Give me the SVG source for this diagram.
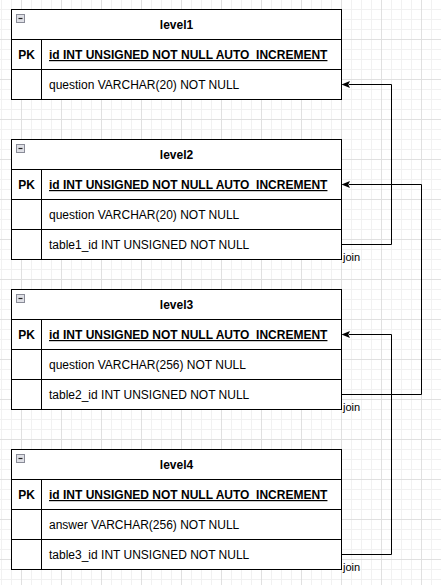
<svg xmlns="http://www.w3.org/2000/svg" width="441" height="585" viewBox="0 0 441 585">
  <style>
    .frame { fill: #ffffff; stroke: #000000; stroke-width: 1; }
    .ln { stroke: #000000; stroke-width: 1; fill: none; }
    .title { font-family: "Liberation Sans", Arial, sans-serif; font-size: 12px; font-weight: bold; fill: #000000; text-anchor: middle; }
    .pk { font-family: "Liberation Sans", Arial, sans-serif; font-size: 12px; font-weight: bold; fill: #000000; text-anchor: middle; }
    .key { font-family: "Liberation Sans", Arial, sans-serif; font-size: 12px; font-weight: bold; fill: #000000; text-decoration: underline; }
    .fld { font-family: "Liberation Sans", Arial, sans-serif; font-size: 12px; fill: #000000; }
    .lbl { font-family: "Liberation Sans", Arial, sans-serif; font-size: 11px; fill: #000000; }
    .conn { stroke: #000000; stroke-width: 1; fill: none; marker-end: url(#arrow); }
    .icon { fill: #dfe0e6; stroke: #8a8c98; stroke-width: 1; }
    .minus { stroke: #222222; stroke-width: 1.2; }
  </style>
  <defs>
    <pattern id="grid" patternUnits="userSpaceOnUse" x="1" y="0" width="40" height="40">
      <path d="M0.5,0 V40 M10.5,0 V40 M30.5,0 V40 M0,9.5 H40 M0,19.5 H40 M0,29.5 H40" stroke="#f1f1f1" stroke-width="1" fill="none"/>
      <path d="M20.5,0 V40 M0,39.5 H40" stroke="#e0e0e0" stroke-width="1" fill="none"/>
    </pattern>
    <marker id="arrow" markerUnits="userSpaceOnUse" markerWidth="10" markerHeight="10" viewBox="0 0 10 10" refX="0" refY="5" orient="auto-start-reverse">
      <path d="M0,5 L8.5,1.5 L7,5 L8.5,8.5 Z" fill="#000000" transform="rotate(180 5 5) translate(1.5 0)"/>
    </marker>
  </defs>

  <rect x="0" y="0" width="441" height="585" fill="#ffffff"/>
  <rect x="0" y="0" width="441" height="585" fill="url(#grid)"/>

  <g id="connectors">
    <path class="ln" d="M341.5,244.5 H391.5 V84.5 H349"/>
    <path d="M341.5,84.5 L350,81 L348.3,84.5 L350,88 Z" fill="#000000"/>
    <path class="ln" d="M341.5,394.5 H421.5 V184.5 H349"/>
    <path d="M341.5,184.5 L350,181 L348.3,184.5 L350,188 Z" fill="#000000"/>
    <path class="ln" d="M341.5,554.5 H391.5 V334.5 H349"/>
    <path d="M341.5,334.5 L350,331 L348.3,334.5 L350,338 Z" fill="#000000"/>
    <text class="lbl" x="343" y="261">join</text>
    <text class="lbl" x="343" y="411">join</text>
    <text class="lbl" x="343" y="571">join</text>
  </g>

  <g id="level1">
    <rect class="frame" x="11.5" y="9.5" width="330" height="90"/>
    <path class="ln" d="M11.5,39.5 H341.5 M11.5,69.5 H341.5 M41.5,39.5 V99.5"/>
    <rect class="icon" x="16.5" y="14.5" width="8" height="8"/>
    <path class="minus" d="M18.5,18.5 H22.5"/>
    <text class="title" x="176.5" y="29">level1</text>
    <text class="pk" x="26.5" y="59">PK</text>
    <text class="key" x="49" y="59">id INT UNSIGNED NOT NULL AUTO_INCREMENT</text>
    <text class="fld" x="49" y="89">question VARCHAR(20) NOT NULL</text>
  </g>

  <g id="level2">
    <rect class="frame" x="11.5" y="139.5" width="330" height="120"/>
    <path class="ln" d="M11.5,169.5 H341.5 M11.5,199.5 H341.5 M11.5,229.5 H341.5 M41.5,169.5 V259.5"/>
    <rect class="icon" x="16.5" y="144.5" width="8" height="8"/>
    <path class="minus" d="M18.5,148.5 H22.5"/>
    <text class="title" x="176.5" y="159">level2</text>
    <text class="pk" x="26.5" y="189">PK</text>
    <text class="key" x="49" y="189">id INT UNSIGNED NOT NULL AUTO_INCREMENT</text>
    <text class="fld" x="49" y="219">question VARCHAR(20) NOT NULL</text>
    <text class="fld" x="49" y="249">table1_id INT UNSIGNED NOT NULL</text>
  </g>

  <g id="level3">
    <rect class="frame" x="11.5" y="289.5" width="330" height="120"/>
    <path class="ln" d="M11.5,319.5 H341.5 M11.5,349.5 H341.5 M11.5,379.5 H341.5 M41.5,319.5 V409.5"/>
    <rect class="icon" x="16.5" y="294.5" width="8" height="8"/>
    <path class="minus" d="M18.5,298.5 H22.5"/>
    <text class="title" x="176.5" y="309">level3</text>
    <text class="pk" x="26.5" y="339">PK</text>
    <text class="key" x="49" y="339">id INT UNSIGNED NOT NULL AUTO_INCREMENT</text>
    <text class="fld" x="49" y="369">question VARCHAR(256) NOT NULL</text>
    <text class="fld" x="49" y="399">table2_id INT UNSIGNED NOT NULL</text>
  </g>

  <g id="level4">
    <rect class="frame" x="11.5" y="449.5" width="330" height="120"/>
    <path class="ln" d="M11.5,479.5 H341.5 M11.5,509.5 H341.5 M11.5,539.5 H341.5 M41.5,479.5 V569.5"/>
    <rect class="icon" x="16.5" y="454.5" width="8" height="8"/>
    <path class="minus" d="M18.5,458.5 H22.5"/>
    <text class="title" x="176.5" y="469">level4</text>
    <text class="pk" x="26.5" y="499">PK</text>
    <text class="key" x="49" y="499">id INT UNSIGNED NOT NULL AUTO_INCREMENT</text>
    <text class="fld" x="49" y="529">answer VARCHAR(256) NOT NULL</text>
    <text class="fld" x="49" y="559">table3_id INT UNSIGNED NOT NULL</text>
  </g>
</svg>
